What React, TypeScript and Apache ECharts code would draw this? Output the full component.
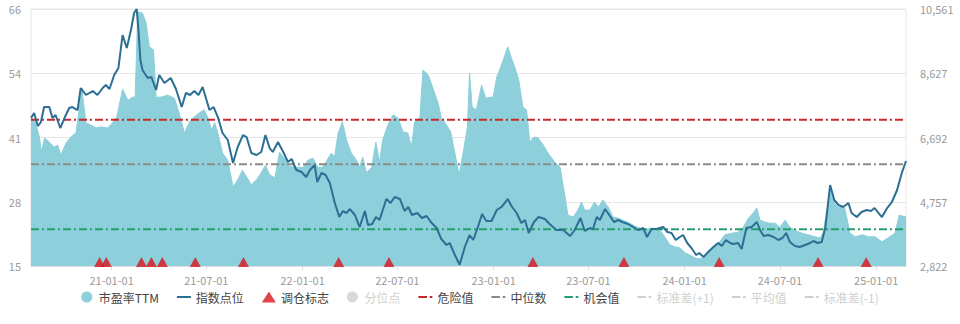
import React, { useEffect, useRef } from 'react';
import * as echarts from 'echarts';

const START = '2020-07-31';
const END = '2025-02-27';

const peDates = [
  '2020-07-31','2020-08-07','2020-08-16','2020-08-20','2020-08-26','2020-09-04','2020-09-13','2020-09-20','2020-09-26','2020-10-06',
  '2020-10-15','2020-10-25','2020-10-31','2020-11-05','2020-11-13','2020-11-22','2020-12-02','2020-12-12','2020-12-24','2021-01-03',
  '2021-01-11','2021-01-22','2021-02-01','2021-02-10','2021-02-15','2021-02-20','2021-03-01','2021-03-08','2021-03-14','2021-03-22',
  '2021-03-27','2021-04-05','2021-04-18','2021-05-01','2021-05-10','2021-05-20','2021-05-30','2021-06-08','2021-06-18','2021-06-27',
  '2021-07-04','2021-07-11','2021-07-17','2021-07-23','2021-08-01','2021-08-11','2021-08-21','2021-08-30','2021-09-08','2021-09-16',
  '2021-09-25','2021-10-05','2021-10-14','2021-10-22','2021-10-30','2021-11-09','2021-11-18','2021-11-28','2021-12-07','2021-12-20',
  '2022-01-02','2022-01-11','2022-01-21','2022-01-30','2022-02-09','2022-02-19','2022-02-25','2022-03-03','2022-03-10','2022-03-18',
  '2022-03-26','2022-04-04','2022-04-14','2022-04-20','2022-04-26','2022-05-03','2022-05-13','2022-05-21','2022-05-28','2022-06-03',
  '2022-06-13','2022-06-23','2022-07-02','2022-07-12','2022-07-21','2022-07-28','2022-08-03','2022-08-13','2022-08-19','2022-08-29',
  '2022-09-07','2022-09-17','2022-09-23','2022-10-03','2022-10-11','2022-10-19','2022-10-27','2022-11-04','2022-11-12','2022-11-16',
  '2022-11-21','2022-11-29','2022-12-09','2022-12-17','2022-12-25','2022-12-31','2023-01-07','2023-01-16','2023-01-28','2023-02-04',
  '2023-02-11','2023-02-18','2023-02-26','2023-03-05','2023-03-11','2023-03-19','2023-03-27','2023-04-06','2023-04-15','2023-04-28',
  '2023-05-08','2023-05-17','2023-05-23','2023-06-02','2023-06-11','2023-06-18','2023-06-24','2023-07-04','2023-07-13','2023-07-20',
  '2023-07-29','2023-08-08','2023-08-17','2023-08-27','2023-09-09','2023-09-18','2023-09-28','2023-10-08','2023-10-17','2023-10-27',
  '2023-11-05','2023-11-15','2023-11-24','2023-12-04','2023-12-13','2023-12-23','2024-01-02','2024-01-11','2024-01-21','2024-01-30',
  '2024-02-09','2024-02-18','2024-02-28','2024-03-08','2024-03-18','2024-03-31','2024-04-12','2024-04-22','2024-05-02','2024-05-11',
  '2024-05-18','2024-05-24','2024-06-03','2024-06-12','2024-06-22','2024-07-01','2024-07-11','2024-07-20','2024-07-30','2024-08-12',
  '2024-08-24','2024-09-06','2024-09-16','2024-09-22','2024-10-05','2024-10-13','2024-10-20','2024-11-02','2024-11-12','2024-11-22',
  '2024-12-05','2024-12-17','2024-12-30','2025-01-12','2025-01-24','2025-02-06','2025-02-14','2025-02-27',
];
const peValues = [
  44.4,44.0,40.6,37.6,40.4,39.6,38.6,39.0,37.0,39.4,
  40.6,41.4,46.0,50.3,43.4,43.0,42.4,42.6,42.4,43.4,
  44.6,50.1,47.9,48.5,48.5,65.4,65.2,63.2,58.5,57.9,
  48.5,48.5,48.9,48.3,45.4,41.4,43.6,44.6,45.4,46.0,
  44.4,42.0,43.4,41.4,37.4,36.0,30.7,32.1,34.0,32.7,
  31.1,32.1,33.5,35.0,33.1,32.5,37.6,36.2,34.8,34.6,
  34.6,36.0,36.4,34.6,34.6,36.4,37.4,36.6,41.4,43.6,
  40.0,37.4,36.0,34.6,36.6,33.5,34.6,39.6,35.6,40.0,
  43.0,45.0,44.4,41.6,41.4,38.6,43.6,44.4,53.9,52.9,
  50.3,47.3,44.4,43.0,41.6,37.4,33.1,37.6,42.6,53.3,
  46.5,46.0,50.9,48.3,48.5,48.5,52.5,54.9,58.5,56.3,
  54.3,51.9,46.5,46.0,39.6,40.6,40.4,39.0,37.4,35.6,
  34.6,29.1,25.1,24.7,26.1,27.7,26.1,26.1,27.7,26.7,
  28.1,26.7,24.7,24.5,23.9,23.5,22.9,22.5,22.1,22.5,
  22.5,22.1,20.8,19.2,18.8,18.6,17.6,17.2,16.6,16.4,
  16.8,18.2,19.2,19.8,21.2,21.5,21.7,22.7,24.5,25.5,
  26.5,24.1,23.7,23.5,23.5,22.7,24.1,22.7,22.1,21.5,
  21.2,20.8,20.6,21.7,30.1,27.5,26.7,26.5,21.5,20.8,
  21.2,20.8,20.8,19.8,20.6,21.5,25.1,24.7,
];

const idxDates = [
  '2020-07-31','2020-08-06','2020-08-13','2020-08-19','2020-08-25','2020-09-04','2020-09-10','2020-09-16','2020-09-25','2020-10-03',
  '2020-10-12','2020-10-18','2020-10-28','2020-11-03','2020-11-13','2020-11-26','2020-12-05','2020-12-15','2020-12-21','2020-12-28',
  '2021-01-06','2021-01-14','2021-01-22','2021-01-30','2021-02-07','2021-02-13','2021-02-18','2021-02-22','2021-02-25','2021-03-01',
  '2021-03-11','2021-03-18','2021-03-27','2021-04-02','2021-04-12','2021-04-24','2021-05-04','2021-05-15','2021-05-23','2021-05-31',
  '2021-06-08','2021-06-16','2021-06-24','2021-07-07','2021-07-15','2021-07-23','2021-08-01','2021-08-11','2021-08-21','2021-08-30',
  '2021-09-09','2021-09-16','2021-09-25','2021-10-05','2021-10-14','2021-10-22','2021-10-30','2021-11-05','2021-11-15','2021-11-25',
  '2021-12-04','2021-12-11','2021-12-20','2021-12-30','2022-01-08','2022-01-15','2022-01-24','2022-01-29','2022-02-06','2022-02-14',
  '2022-02-22','2022-03-03','2022-03-12','2022-03-19','2022-03-26','2022-04-01','2022-04-11','2022-04-20','2022-04-30','2022-05-06',
  '2022-05-14','2022-05-21','2022-05-28','2022-06-10','2022-06-18','2022-06-26','2022-07-06','2022-07-15','2022-07-22','2022-07-29',
  '2022-08-08','2022-08-17','2022-08-26','2022-09-03','2022-09-14','2022-09-23','2022-10-03','2022-10-09','2022-10-19','2022-10-28',
  '2022-11-07','2022-11-16','2022-11-23','2022-12-02','2022-12-10','2022-12-18','2022-12-28','2023-01-07','2023-01-16','2023-01-28',
  '2023-02-04','2023-02-14','2023-02-23','2023-03-02','2023-03-09','2023-03-19','2023-03-28','2023-04-09','2023-04-18','2023-05-01',
  '2023-05-14','2023-05-27','2023-06-05','2023-06-16','2023-06-24','2023-07-04','2023-07-10','2023-07-17','2023-07-23','2023-08-02',
  '2023-08-10','2023-08-19','2023-08-27','2023-09-04','2023-09-15','2023-09-25','2023-10-04','2023-10-14','2023-10-21','2023-10-30',
  '2023-11-08','2023-11-21','2023-11-29','2023-12-07','2023-12-15','2023-12-23','2023-12-29','2024-01-06','2024-01-14','2024-01-23',
  '2024-01-29','2024-02-06','2024-02-15','2024-02-25','2024-03-05','2024-03-12','2024-03-20','2024-03-28','2024-04-03','2024-04-12',
  '2024-04-19','2024-04-28','2024-05-08','2024-05-18','2024-05-24','2024-05-31','2024-06-09','2024-06-19','2024-06-28','2024-07-06',
  '2024-07-13','2024-07-20','2024-07-30','2024-08-08','2024-08-18','2024-08-28','2024-09-03','2024-09-11','2024-09-19','2024-09-26',
  '2024-10-05','2024-10-13','2024-10-21','2024-10-30','2024-11-09','2024-11-15','2024-11-25','2024-12-04','2024-12-14','2024-12-22',
  '2024-12-29','2025-01-12','2025-01-22','2025-01-31','2025-02-10','2025-02-19','2025-02-27',
];
const idxValues = [
  7278,7429,7037,7158,7609,7609,7278,7369,6977,7278,
  7579,7609,7519,8182,7971,8091,7971,8182,8272,8152,
  8573,8784,9777,9386,9928,10440,10561,9777,9025,8724,
  8483,8513,8121,8573,8332,8483,8152,7609,8031,7971,
  8091,7971,8212,7519,7609,7308,6827,6616,5923,6405,
  6766,6706,6224,6164,6255,6766,6375,6255,6556,6255,
  5953,6044,5713,5652,5502,5713,5863,5351,5622,5562,
  5321,4749,4297,4478,4418,4538,4358,3996,4478,4057,
  4087,4297,4207,4839,4719,4900,4839,4478,4598,4358,
  4418,4267,4328,4147,3966,3635,3454,3515,3153,2860,
  3394,3755,3605,3996,4388,4177,4177,4508,4598,4839,
  4629,4418,4117,4207,3816,4147,4297,4237,4087,3906,
  3906,3725,3906,4267,3876,3966,3936,4297,4207,4538,
  4358,4147,4207,4147,4087,3996,3906,3966,3695,3936,
  3936,3996,3846,3816,3605,3695,3755,3515,3364,3153,
  3213,3093,3244,3394,3515,3424,3605,3515,3484,3515,
  3334,3966,3996,4147,3906,3725,3755,3695,3605,3665,
  3816,3545,3424,3394,3454,3515,3575,3515,3545,3996,
  5261,4809,4659,4598,4719,4418,4297,4448,4508,4478,
  4568,4297,4568,4749,5110,5622,5984,
];

const tradeDates = [
  '2020-12-09','2020-12-22','2021-02-27','2021-03-18','2021-04-08','2021-06-10','2021-09-10',
  '2022-03-11','2022-06-15','2023-03-17','2023-09-07','2024-03-07','2024-09-12','2024-12-13',
];

const dangerValue = 44.0;
const medianValue = 35.2;
const chanceValue = 22.3;

const peAxis = { min: 15, max: 66 };
const idxAxis = { min: 2822, max: 10561 };

function buildDays(start: string, end: string): string[] {
  const out: string[] = [];
  const s = Date.parse(start + 'T00:00:00Z');
  const e = Date.parse(end + 'T00:00:00Z');
  for (let t = s; t <= e; t += 86400000) {
    out.push(new Date(t).toISOString().slice(0, 10));
  }
  return out;
}

const FONT = '"Noto Sans CJK SC", "Noto Sans", sans-serif';
const AREA = '#8dcfda';
const LINE = '#2c6f93';
const TRI = '#d9141c';
const RED = '#c42a2e';
const GRAY = '#8a8a8a';
const GREEN = '#2a9d6f';
const DASHDOT = [8, 3, 2, 3];
const ICON_LINE = 'path://M0,0H14V2H0Z';
const ICON_DASHDOT = 'path://M0,0H8V2H0ZM10.5,0H13V2H10.5Z';

export default function App() {
  const ref = useRef<HTMLDivElement>(null);
  useEffect(() => {
    document.body.style.margin = '0';
    const chart = echarts.init(ref.current!, undefined, { renderer: 'svg' });
    const days = buildDays(START, END);
    const isTickDay = (_i: number, v: string) => v.endsWith('-01-01') || v.endsWith('-07-01');
    const ceilFmt = (v: number) => Math.ceil(v - 1e-6);
    const refLine = (name: string, value: number, color: string) => ({
      name,
      type: 'line',
      yAxisIndex: 0,
      symbol: 'none',
      data: [[START, value], [END, value]],
      lineStyle: { color, width: 2, type: DASHDOT },
      itemStyle: { color },
      z: 3,
    });
    const hiddenLine = (name: string) => ({
      name,
      type: 'line',
      yAxisIndex: 0,
      symbol: 'none',
      data: [],
      lineStyle: { color: '#aaa', width: 2, type: DASHDOT },
      itemStyle: { color: '#aaa' },
    });
    const option: any = {
      animation: false,
      textStyle: { fontFamily: FONT },
      grid: { left: 31, right: 54, top: 9, bottom: 58, show: true, borderColor: '#e6e6e6', borderWidth: 1 },
      legend: {
        top: 286,
        left: 'center',
        itemWidth: 14,
        itemHeight: 11,
        itemGap: 18,
        symbolKeepAspect: true,
        textStyle: { color: '#444', fontSize: 12, fontFamily: FONT },
        inactiveColor: '#cfcfcf',
        data: [
          { name: '市盈率TTM', icon: 'circle' },
          { name: '指数点位', icon: ICON_LINE },
          { name: '调仓标志', icon: 'triangle' },
          { name: '分位点', icon: 'circle' },
          { name: '危险值', icon: ICON_DASHDOT },
          { name: '中位数', icon: ICON_DASHDOT },
          { name: '机会值', icon: ICON_DASHDOT },
          { name: '标准差(+1)', icon: ICON_DASHDOT },
          { name: '平均值', icon: ICON_DASHDOT },
          { name: '标准差(-1)', icon: ICON_DASHDOT },
        ],
        selected: { '分位点': false, '标准差(+1)': false, '平均值': false, '标准差(-1)': false },
      },
      xAxis: {
        type: 'category',
        data: days,
        boundaryGap: false,
        axisLine: { lineStyle: { color: '#e0e0e0' } },
        axisTick: { interval: isTickDay, length: 4, lineStyle: { color: '#dcdcdc' } },
        axisLabel: { interval: isTickDay, formatter: (v: string) => v.slice(2), color: '#9a9a9a', fontSize: 11, margin: 8 },
        splitLine: { show: false },
      },
      yAxis: [
        {
          type: 'value',
          position: 'left',
          min: peAxis.min,
          max: peAxis.max,
          interval: (peAxis.max - peAxis.min) / 4,
          axisLine: { show: false },
          axisTick: { show: false },
          splitLine: { lineStyle: { color: '#e6e6e6' } },
          axisLabel: { formatter: (v: number) => String(ceilFmt(v)), color: '#9a9a9a', fontSize: 11, margin: 10 },
        },
        {
          type: 'value',
          position: 'right',
          min: idxAxis.min,
          max: idxAxis.max,
          interval: (idxAxis.max - idxAxis.min) / 4,
          axisLine: { show: false },
          axisTick: { show: false },
          splitLine: { show: false },
          axisLabel: { formatter: (v: number) => ceilFmt(v).toLocaleString('en-US'), color: '#9a9a9a', fontSize: 11, margin: 14 },
        },
      ],
      series: [
        {
          name: '市盈率TTM',
          type: 'line',
          yAxisIndex: 0,
          symbol: 'none',
          data: peDates.map((d, i) => [d, peValues[i]]),
          lineStyle: { color: AREA, width: 1 },
          itemStyle: { color: AREA },
          areaStyle: { color: AREA, opacity: 1 },
          z: 1,
        },
        refLine('危险值', dangerValue, RED),
        refLine('中位数', medianValue, GRAY),
        refLine('机会值', chanceValue, GREEN),
        {
          name: '指数点位',
          type: 'line',
          yAxisIndex: 1,
          symbol: 'none',
          data: idxDates.map((d, i) => [d, idxValues[i]]),
          lineStyle: { color: LINE, width: 2 },
          itemStyle: { color: LINE },
          z: 4,
        },
        {
          name: '调仓标志',
          type: 'scatter',
          yAxisIndex: 0,
          symbol: 'triangle',
          symbolSize: [11, 10],
          symbolOffset: [0, -4],
          data: tradeDates.map((d) => [d, peAxis.min]),
          itemStyle: { color: TRI },
          z: 5,
        },
        {
          name: '分位点',
          type: 'scatter',
          yAxisIndex: 0,
          data: [],
          itemStyle: { color: '#aaa' },
        },
        hiddenLine('标准差(+1)'),
        hiddenLine('平均值'),
        hiddenLine('标准差(-1)'),
      ],
    };
    chart.setOption(option);
    return () => chart.dispose();
  }, []);
  return <div ref={ref} style={{ width: 960, height: 324 }} />;
}
